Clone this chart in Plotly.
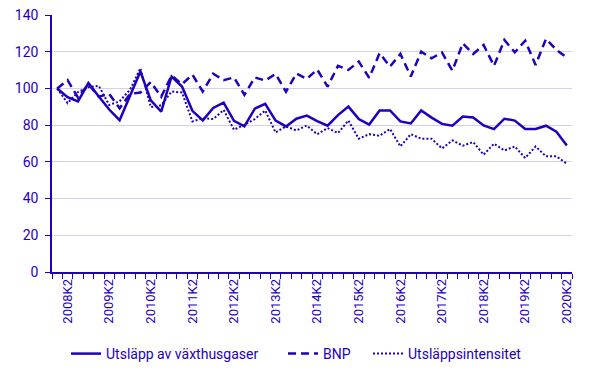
import plotly.graph_objects as go

years = list(range(2008, 2021))
quarters = [f"{y}K{q}" for y in years for q in range(1, 5)][:50]

utslapp = [100, 95.2, 92.9, 102.9, 95.6, 88.5, 82.7, 96, 109.2, 93.5,
           87.4, 106.5, 101, 87.8, 82.6, 89.4, 92.2, 82.3, 79.3, 89,
           91.6, 82.5, 79.3, 83.5, 85.2, 82.2, 79.7, 85.5, 90.1, 83.3,
           80.3, 88, 88, 82, 80.9, 88, 84.1, 80.7, 79.7, 84.7,
           84.2, 79.8, 77.8, 83.5, 82.5, 77.9, 77.9, 79.7, 76.4, 68.9]

bnp = [100, 104.5, 95, 102.3, 95.5, 97, 89.2, 97, 97.8, 103.5,
       95.5, 107, 102.3, 107.5, 98.3, 108, 104.5, 106, 96.5, 106,
       104.3, 107.9, 98.2, 108.1, 105.2, 110.3, 101, 112.3, 110.1, 114.6,
       105.8, 119.2, 111.9, 118.8, 106.5, 120, 116.4, 119.6, 109.7, 124.6,
       118.8, 123.7, 112.3, 126.4, 119.7, 126, 112.8, 127, 121, 116.8]

intensitet = [100, 92, 98, 100.7, 101.4, 91, 93, 99.3, 111, 89.8,
              90.8, 98.3, 97.8, 82, 83.8, 83.3, 88.3, 77.5, 80.2, 83.3,
              88, 76, 79.3, 77.1, 79.8, 75, 78.4, 75.7, 82.5, 72.6,
              75.1, 74.2, 77.9, 68.4, 75.1, 72.6, 72.6, 67.3, 71.7, 68.8,
              70.8, 63.9, 69.9, 66.2, 68.4, 62.1, 68.4, 63, 63, 59]

tick_labels = [q for q in quarters if q.endswith("K2")]
series_names = ["Utsläpp av växthusgaser", "BNP", "Utsläppsintensitet"]

BLUE = "#1e00be"
GRID = "#d3d0f0"
FONT = "Roboto"
W, H = 599, 377

xidx = list(range(len(quarters)))

fig = go.Figure()
fig.add_trace(go.Scatter(x=xidx, y=utslapp, mode="lines", name=series_names[0],
                         legend="legend", line=dict(color=BLUE, width=2.5)))
fig.add_trace(go.Scatter(x=xidx, y=bnp, mode="lines", name=series_names[1],
                         legend="legend2", line=dict(color=BLUE, width=2.5, dash="8px,5px")))
fig.add_trace(go.Scatter(x=xidx, y=intensitet, mode="lines", name=series_names[2],
                         legend="legend3", line=dict(color=BLUE, width=2, dash="2px,2px")))

leg_common = dict(orientation="h", xref="container", yref="container",
                  y=1 - 354 / H, yanchor="middle", xanchor="left",
                  font=dict(family=FONT, size=14, color=BLUE), itemwidth=30,
                  bgcolor="rgba(0,0,0,0)", borderwidth=0)

fig.update_layout(
    width=W, height=H,
    margin=dict(l=52, r=27, t=15, b=104.5, autoexpand=False),
    paper_bgcolor="white", plot_bgcolor="white",
    font=dict(family=FONT, size=13, color=BLUE),
    showlegend=True,
    legend=dict(x=66 / W, **leg_common),
    legend2=dict(x=283 / W, **leg_common),
    legend3=dict(x=368 / W, **leg_common),
    xaxis=dict(
        range=[-0.5, len(quarters) - 0.5],
        tickmode="array",
        tickvals=[quarters.index(t) for t in tick_labels],
        ticktext=tick_labels,
        tickangle=-90,
        ticks="",
        automargin=False,
        showgrid=False, zeroline=False,
        showline=True, linecolor=BLUE, linewidth=1.5,
        tickfont=dict(family=FONT, size=13, color=BLUE),
        minor=dict(tickmode="linear", tick0=-0.5, dtick=1, ticks="outside",
                   ticklen=5, tickcolor=BLUE, tickwidth=1, showgrid=False),
    ),
    yaxis=dict(
        range=[0, 140], tickmode="linear", tick0=0, dtick=20,
        ticks="outside", ticklen=5, tickcolor=BLUE, tickwidth=1,
        automargin=False,
        showline=True, linecolor=BLUE, linewidth=1.5,
        showgrid=True, gridcolor=GRID, gridwidth=1,
        zeroline=False,
        tickfont=dict(family=FONT, size=14, color=BLUE),
        ticklabelstandoff=4,
    ),
)

fig.write_html("out.html",
               config={"displayModeBar": False},
               post_script="document.body.style.margin='0';document.body.style.overflow='hidden';")
